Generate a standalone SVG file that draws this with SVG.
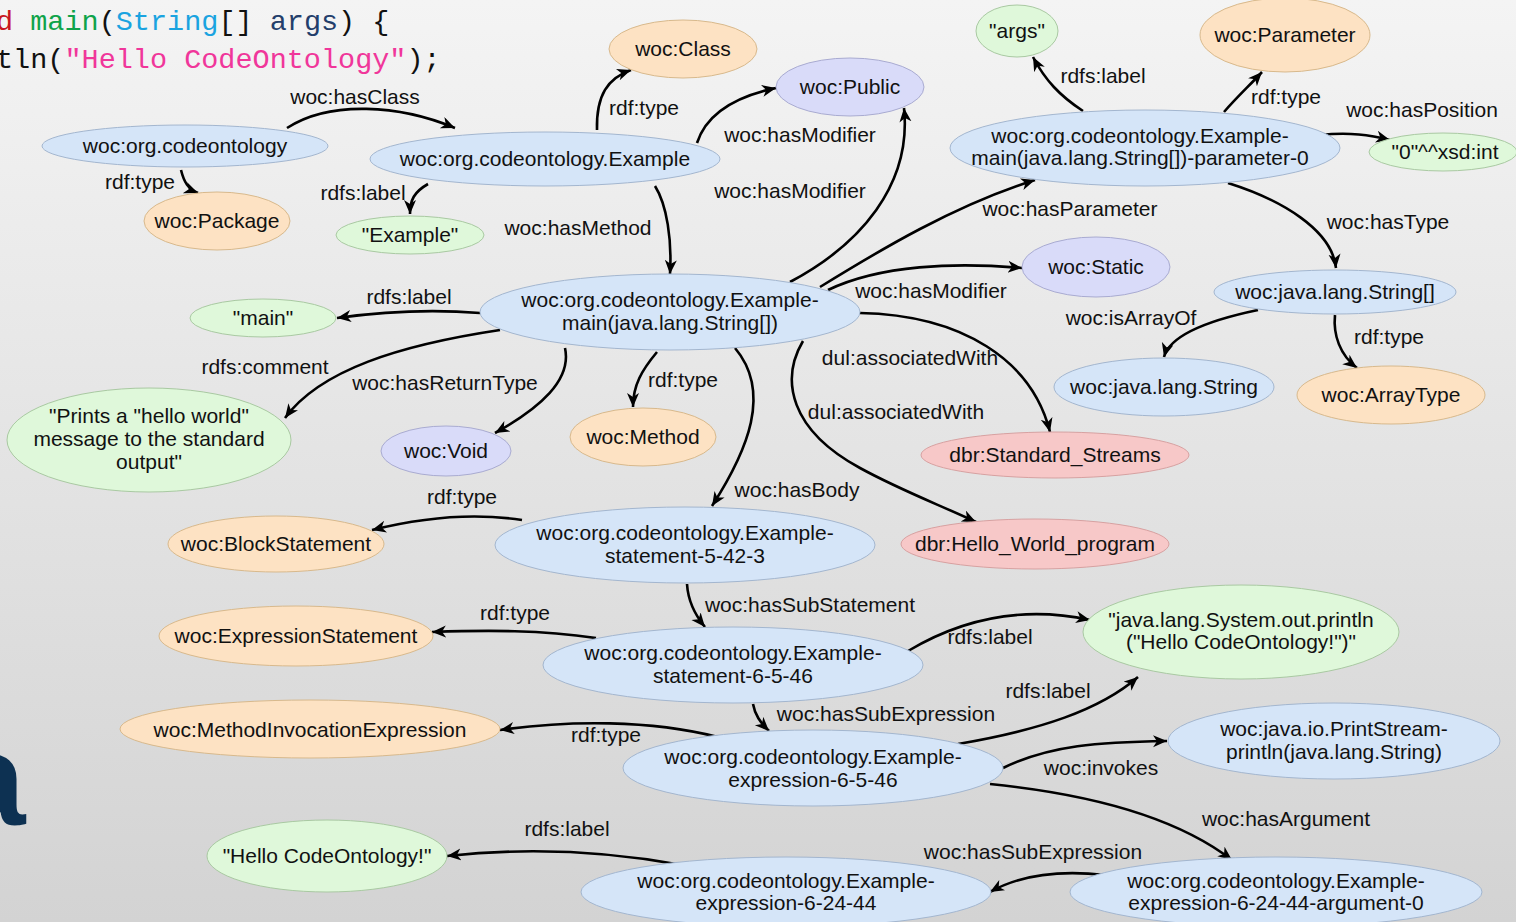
<svg xmlns="http://www.w3.org/2000/svg" width="1516" height="922" viewBox="0 0 1516 922">
<defs>
<linearGradient id="bg" x1="0" y1="0" x2="0" y2="1">
<stop offset="0" stop-color="#f4f4f4"/>
<stop offset="1" stop-color="#d3d3d3"/>
</linearGradient>
<marker id="arr" markerUnits="userSpaceOnUse" markerWidth="16" markerHeight="14" refX="14" refY="6" orient="auto">
<path d="M0,0 L14,6 L0,12 L4,6 z" fill="#000"/>
</marker>
<style>
text{font-family:"Liberation Sans",Arial,sans-serif;font-size:21px;fill:#111;}
.n text{text-anchor:middle;}
.lbl{text-anchor:middle;}
.blue{fill:#d5e5f8;stroke:#a3b6cf;stroke-width:1;}
.orange{fill:#fde2c3;stroke:#d8b98c;stroke-width:1;}
.green{fill:#dff8da;stroke:#a9c9a2;stroke-width:1;}
.purple{fill:#d9dbf9;stroke:#a9abd1;stroke-width:1;}
.pink{fill:#f7c8c8;stroke:#d7a1a1;stroke-width:1;}
#edges path{fill:none;stroke:#000;stroke-width:2.6;marker-end:url(#arr);}
.code{font-family:"Liberation Mono","DejaVu Sans Mono",monospace;font-size:28.5px;}
</style>
</defs>
<rect x="0" y="0" width="1516" height="922" fill="url(#bg)"/>

<g id="background-text">
<text class="code" x="-4" y="30"><tspan fill="#c8161d">d</tspan><tspan fill="#111"> </tspan><tspan fill="#0fa34a">main</tspan><tspan fill="#111">(</tspan><tspan fill="#1aa3e0">String</tspan><tspan fill="#111">[] </tspan><tspan fill="#233e6b">args</tspan><tspan fill="#111">) {</tspan></text>
<text class="code" x="-4" y="68"><tspan fill="#111">tln(</tspan><tspan fill="#f0369a">"Hello CodeOntology"</tspan><tspan fill="#111">);</tspan></text>
<text x="-48" y="825" style="font-size:132px;font-weight:bold;fill:#0d3152">a</text>
</g>

<g id="edges">
<path d="M287,128 C330,100 400,105 455,128"/>
<path d="M181,170 C184,182 188,189 198,193"/>
<path d="M428,184 C414,192 410,200 410,214"/>
<path d="M597,130 C596,95 608,78 631,70"/>
<path d="M697,143 C707,112 738,96 776,88"/>
<path d="M790,282 C860,245 912,185 904,108"/>
<path d="M655,186 C667,205 672,240 670,274"/>
<path d="M820,287 C880,250 955,205 1035,180"/>
<path d="M828,290 C880,265 955,262 1022,268"/>
<path d="M480,313 C430,309 380,312 337,318"/>
<path d="M500,330 C400,345 320,370 285,418"/>
<path d="M565,348 C572,380 540,408 495,433"/>
<path d="M657,352 C642,370 633,385 633,407"/>
<path d="M735,348 C772,392 748,450 712,506"/>
<path d="M860,313 C962,315 1032,360 1050,432"/>
<path d="M803,341 C780,380 790,430 860,468 C900,490 940,505 976,522"/>
<path d="M1083,111 C1060,96 1045,80 1033,57"/>
<path d="M1224,112 C1237,97 1250,85 1262,72"/>
<path d="M1320,135 C1350,132 1370,135 1390,140"/>
<path d="M1228,183 C1282,200 1332,230 1336,268"/>
<path d="M1258,310 C1210,320 1170,335 1164,357"/>
<path d="M1335,315 C1333,335 1340,355 1357,368"/>
<path d="M522,520 C470,512 420,518 372,530"/>
<path d="M687,584 C688,600 695,615 705,627"/>
<path d="M596,638 C540,630 490,630 432,632"/>
<path d="M908,651 C960,620 1020,605 1090,620"/>
<path d="M753,704 C755,715 760,722 769,731"/>
<path d="M718,737 C650,720 570,720 500,730"/>
<path d="M958,744 C1040,730 1100,710 1138,677"/>
<path d="M1003,768 C1050,745 1100,742 1167,741"/>
<path d="M990,784 C1100,795 1180,820 1232,860"/>
<path d="M1105,875 C1060,870 1020,875 990,892"/>
<path d="M682,865 C600,850 520,848 447,856"/>
</g>

<g id="edge-labels">
<text class="lbl" x="355" y="104">woc:hasClass</text>
<text class="lbl" x="140" y="189">rdf:type</text>
<text class="lbl" x="363" y="200">rdfs:label</text>
<text class="lbl" x="644" y="115">rdf:type</text>
<text class="lbl" x="800" y="142">woc:hasModifier</text>
<text class="lbl" x="790" y="198">woc:hasModifier</text>
<text class="lbl" x="578" y="235">woc:hasMethod</text>
<text class="lbl" x="1070" y="216">woc:hasParameter</text>
<text class="lbl" x="931" y="298">woc:hasModifier</text>
<text class="lbl" x="409" y="304">rdfs:label</text>
<text class="lbl" x="265" y="374">rdfs:comment</text>
<text class="lbl" x="445" y="390">woc:hasReturnType</text>
<text class="lbl" x="683" y="387">rdf:type</text>
<text class="lbl" x="797" y="497">woc:hasBody</text>
<text class="lbl" x="910" y="365">dul:associatedWith</text>
<text class="lbl" x="896" y="419">dul:associatedWith</text>
<text class="lbl" x="1103" y="83">rdfs:label</text>
<text class="lbl" x="1286" y="104">rdf:type</text>
<text class="lbl" x="1422" y="117">woc:hasPosition</text>
<text class="lbl" x="1388" y="229">woc:hasType</text>
<text class="lbl" x="1131" y="325">woc:isArrayOf</text>
<text class="lbl" x="1389" y="344">rdf:type</text>
<text class="lbl" x="462" y="504">rdf:type</text>
<text class="lbl" x="810" y="612">woc:hasSubStatement</text>
<text class="lbl" x="515" y="620">rdf:type</text>
<text class="lbl" x="990" y="644">rdfs:label</text>
<text class="lbl" x="886" y="721">woc:hasSubExpression</text>
<text class="lbl" x="606" y="742">rdf:type</text>
<text class="lbl" x="1048" y="698">rdfs:label</text>
<text class="lbl" x="1101" y="775">woc:invokes</text>
<text class="lbl" x="1286" y="826">woc:hasArgument</text>
<text class="lbl" x="1033" y="859">woc:hasSubExpression</text>
<text class="lbl" x="567" y="836">rdfs:label</text>
</g>

<g id="n-package-org" class="n"><ellipse class="blue" cx="185" cy="146" rx="143" ry="21"/><text x="185" y="153">woc:org.codeontology</text></g>
<g id="n-Package" class="n"><ellipse class="orange" cx="217" cy="221" rx="73" ry="29"/><text x="217" y="228">woc:Package</text></g>
<g id="n-Example" class="n"><ellipse class="blue" cx="545" cy="159" rx="175" ry="27"/><text x="545" y="166">woc:org.codeontology.Example</text></g>
<g id="n-lit-Example" class="n"><ellipse class="green" cx="410" cy="235" rx="74" ry="19"/><text x="410" y="242">"Example"</text></g>
<g id="n-Class" class="n"><ellipse class="orange" cx="683" cy="49" rx="74" ry="29"/><text x="683" y="56">woc:Class</text></g>
<g id="n-Public" class="n"><ellipse class="purple" cx="850" cy="87" rx="74" ry="29"/><text x="850" y="94">woc:Public</text></g>
<g id="n-args" class="n"><ellipse class="green" cx="1017" cy="31" rx="41" ry="26"/><text x="1017" y="38">"args"</text></g>
<g id="n-Parameter" class="n"><ellipse class="orange" cx="1285" cy="35" rx="85" ry="37"/><text x="1285" y="42">woc:Parameter</text></g>
<g id="n-param0" class="n"><ellipse class="blue" cx="1145" cy="148" rx="195" ry="38"/><text x="1140" y="143">woc:org.codeontology.Example-</text><text x="1140" y="165">main(java.lang.String[])-parameter-0</text></g>
<g id="n-pos" class="n"><ellipse class="green" cx="1443" cy="152" rx="74" ry="19"/><text x="1445" y="159">"0"^^xsd:int</text></g>
<g id="n-Static" class="n"><ellipse class="purple" cx="1096" cy="267" rx="74" ry="30"/><text x="1096" y="274">woc:Static</text></g>
<g id="n-StringArr" class="n"><ellipse class="blue" cx="1335" cy="292" rx="121" ry="22"/><text x="1335" y="299">woc:java.lang.String[]</text></g>
<g id="n-String" class="n"><ellipse class="blue" cx="1164" cy="387" rx="110" ry="29"/><text x="1164" y="394">woc:java.lang.String</text></g>
<g id="n-ArrayType" class="n"><ellipse class="orange" cx="1391" cy="395" rx="94" ry="29"/><text x="1391" y="402">woc:ArrayType</text></g>
<g id="n-main" class="n"><ellipse class="blue" cx="670" cy="312" rx="190" ry="38"/><text x="670" y="307">woc:org.codeontology.Example-</text><text x="670" y="330">main(java.lang.String[])</text></g>
<g id="n-lit-main" class="n"><ellipse class="green" cx="263" cy="318" rx="73" ry="19"/><text x="263" y="325">"main"</text></g>
<g id="n-comment" class="n"><ellipse class="green" cx="149" cy="440" rx="142" ry="52"/><text x="149" y="423">"Prints a "hello world"</text><text x="149" y="446">message to the standard</text><text x="149" y="469">output"</text></g>
<g id="n-Void" class="n"><ellipse class="purple" cx="446" cy="451" rx="65" ry="25"/><text x="446" y="458">woc:Void</text></g>
<g id="n-Method" class="n"><ellipse class="orange" cx="643" cy="437" rx="73" ry="29"/><text x="643" y="444">woc:Method</text></g>
<g id="n-StdStreams" class="n"><ellipse class="pink" cx="1055" cy="455" rx="134" ry="23"/><text x="1055" y="462">dbr:Standard_Streams</text></g>
<g id="n-HelloWorld" class="n"><ellipse class="pink" cx="1035" cy="544" rx="134" ry="25"/><text x="1035" y="551">dbr:Hello_World_program</text></g>
<g id="n-BlockStatement" class="n"><ellipse class="orange" cx="276" cy="544" rx="108" ry="28"/><text x="276" y="551">woc:BlockStatement</text></g>
<g id="n-stmt5" class="n"><ellipse class="blue" cx="685" cy="545" rx="190" ry="38"/><text x="685" y="540">woc:org.codeontology.Example-</text><text x="685" y="563">statement-5-42-3</text></g>
<g id="n-ExprStatement" class="n"><ellipse class="orange" cx="296" cy="636" rx="137" ry="30"/><text x="296" y="643">woc:ExpressionStatement</text></g>
<g id="n-stmt6" class="n"><ellipse class="blue" cx="733" cy="665" rx="190" ry="38"/><text x="733" y="660">woc:org.codeontology.Example-</text><text x="733" y="683">statement-6-5-46</text></g>
<g id="n-lit-println" class="n"><ellipse class="green" cx="1241" cy="632" rx="158" ry="47"/><text x="1241" y="627">"java.lang.System.out.println</text><text x="1241" y="649">("Hello CodeOntology!")"</text></g>
<g id="n-MIE" class="n"><ellipse class="orange" cx="310" cy="729" rx="190" ry="29"/><text x="310" y="737">woc:MethodInvocationExpression</text></g>
<g id="n-expr6" class="n"><ellipse class="blue" cx="813" cy="768" rx="190" ry="38"/><text x="813" y="764">woc:org.codeontology.Example-</text><text x="813" y="787">expression-6-5-46</text></g>
<g id="n-PrintStream" class="n"><ellipse class="blue" cx="1334" cy="741" rx="166" ry="38"/><text x="1334" y="736">woc:java.io.PrintStream-</text><text x="1334" y="759">println(java.lang.String)</text></g>
<g id="n-lit-hello" class="n"><ellipse class="green" cx="327" cy="856" rx="120" ry="36"/><text x="327" y="863">"Hello CodeOntology!"</text></g>
<g id="n-expr24" class="n"><ellipse class="blue" cx="786" cy="892" rx="205" ry="35"/><text x="786" y="888">woc:org.codeontology.Example-</text><text x="786" y="910">expression-6-24-44</text></g>
<g id="n-arg0" class="n"><ellipse class="blue" cx="1276" cy="892" rx="206" ry="35"/><text x="1276" y="888">woc:org.codeontology.Example-</text><text x="1276" y="910">expression-6-24-44-argument-0</text></g>
</svg>
